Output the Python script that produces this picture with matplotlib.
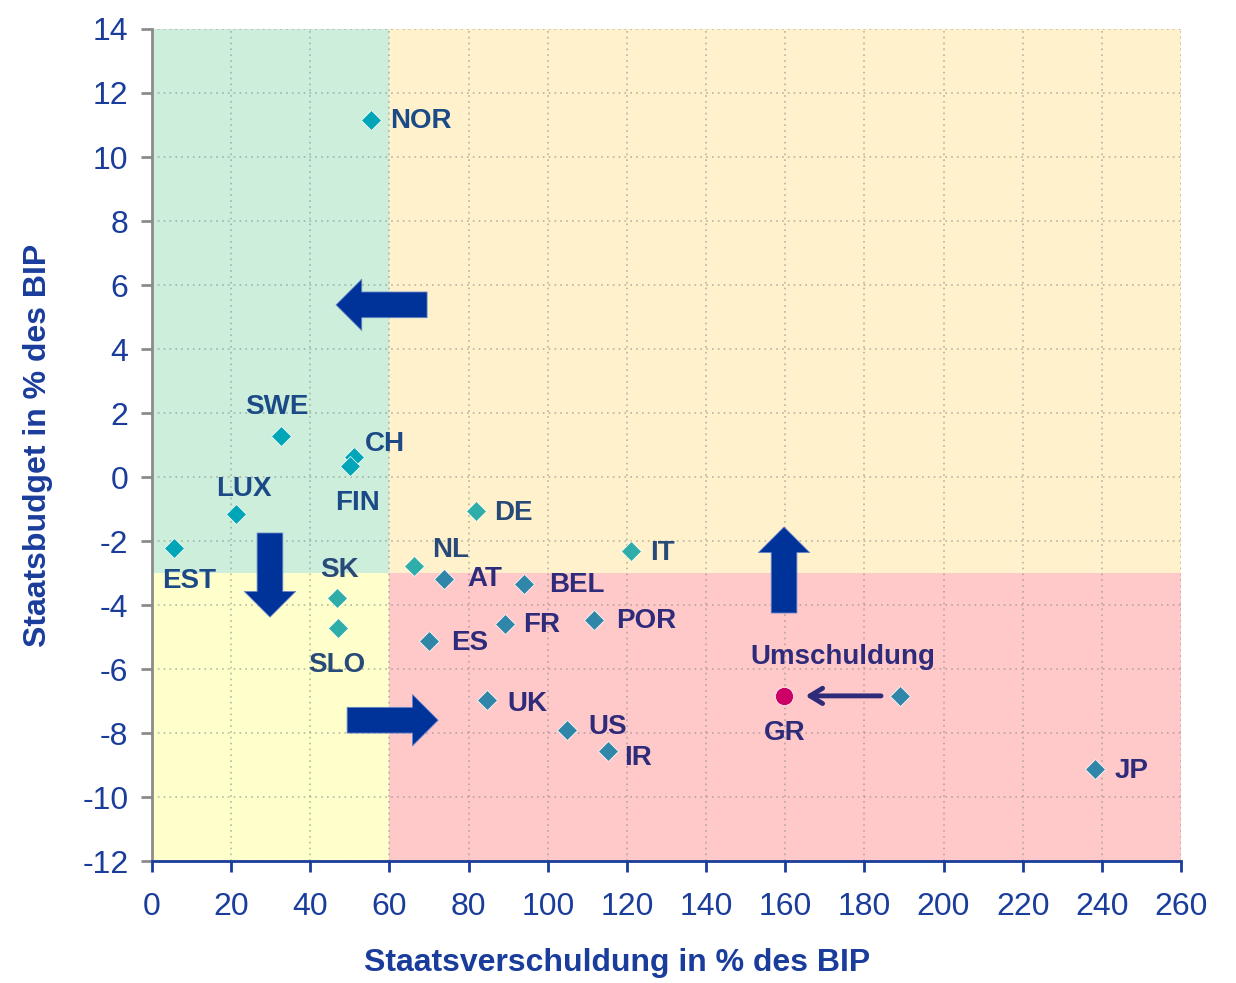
import matplotlib
matplotlib.use("Agg")
import matplotlib.pyplot as plt
from matplotlib.patches import Rectangle

plt.rcParams['font.family'] = ['Liberation Sans', 'DejaVu Sans']

# Staatsverschuldung (% BIP) und Staatsbudget (% BIP) je Land
countries = ["NOR", "SWE", "CH", "FIN", "LUX", "EST", "SK", "SLO", "DE", "NL",
             "AT", "BEL", "IT", "FR", "POR", "ES", "UK", "US", "IR", "GR", "JP"]
debt = [55.3, 32.6, 51.0, 50.0, 21.2, 5.6, 46.7, 47.0, 81.9, 66.2,
        73.8, 94.0, 121.0, 89.2, 111.7, 70.0, 84.6, 104.9, 115.2, 189.0, 238.2]
budget = [11.16, 1.28, 0.63, 0.34, -1.16, -2.22, -3.78, -4.72, -1.06, -2.78,
          -3.19, -3.34, -2.31, -4.59, -4.47, -5.13, -6.97, -7.90, -8.56, -6.84, -9.13]
groups = ["g", "g", "g", "g", "g", "g", "t", "t", "t", "t",
          "p", "p", "t", "p", "p", "p", "p", "p", "p", "p", "p"]

gr_after_debt = 159.7
gr_after_budget = -6.84

x_ticks = list(range(0, 261, 20))
y_ticks = list(range(-12, 15, 2))

marker_colors = {"g": "#00a5b7", "t": "#2fada8", "p": "#2f86a8"}
label_colors = {"g": "#1b4a86", "t": "#274a78", "p": "#2e2b7a"}

# label offsets (data units): dx, dy relative to the point
label_pos = {
    "NOR": (4.8, -0.05), "SWE": (-9.1, 0.92), "CH": (2.8, 0.41), "FIN": (-3.8, -1.14),
    "LUX": (-5.0, 0.77), "EST": (-3.1, -1.02), "SK": (-4.3, 0.86), "SLO": (-7.6, -1.14),
    "DE": (4.5, -0.08), "NL": (4.5, 0.51), "AT": (5.8, 0.01), "BEL": (6.3, -0.05),
    "IT": (4.8, -0.05), "FR": (4.5, -0.05), "POR": (5.5, -0.02), "ES": (5.5, -0.05),
    "UK": (5.1, -0.11), "US": (5.3, 0.10), "IR": (4.1, -0.21), "JP": (5.1, -0.05),
}

BLUE = "#1a3d9c"
ARROW = "#003399"

fig = plt.figure(figsize=(12.36, 9.83), dpi=100)
ax = fig.add_axes([0.123, 0.1241, 0.8325, 0.8464])
ax.set_xlim(0, 260)
ax.set_ylim(-12, 14)

# quadrant backgrounds
ax.add_patch(Rectangle((0, -3), 60, 17, facecolor="#cceedb", edgecolor="none", zorder=0))
ax.add_patch(Rectangle((60, -3), 200, 17, facecolor="#fff1cc", edgecolor="none", zorder=0))
ax.add_patch(Rectangle((0, -12), 60, 9, facecolor="#ffffcc", edgecolor="none", zorder=0))
ax.add_patch(Rectangle((60, -12), 200, 9, facecolor="#ffc9c9", edgecolor="none", zorder=0))

ax.set_xticks(x_ticks)
ax.set_yticks(y_ticks)
ax.set_yticklabels([str(v) for v in y_ticks])
ax.grid(True, linestyle=(0, (1, 2.5)), color="#8a8a8a", alpha=0.6, linewidth=1.2, zorder=1)
ax.set_axisbelow(True)

for s in ("top", "right"):
    ax.spines[s].set_visible(False)
ax.spines["left"].set_color("#8c8c8c")
ax.spines["left"].set_linewidth(2)
ax.spines["bottom"].set_color(BLUE)
ax.spines["bottom"].set_linewidth(2)
ax.tick_params(axis="y", colors="#8c8c8c", labelcolor=BLUE, labelsize=23, length=8, width=2, pad=9)
ax.tick_params(axis="x", colors=BLUE, labelcolor=BLUE, labelsize=23, length=8, width=2, pad=14)

ax.set_xlabel("Staatsverschuldung in % des BIP", fontsize=23, fontweight="bold", color=BLUE)
ax.xaxis.set_label_coords(0.452, -0.104)
ax.set_ylabel("Staatsbudget in % des BIP", fontsize=23, fontweight="bold", color=BLUE)
ax.yaxis.set_label_coords(-0.096, 0.5)

# country markers
for c, x, y, g in zip(countries, debt, budget, groups):
    ax.plot(x, y, marker="D", markersize=10.5, color=marker_colors[g],
            markeredgecolor="white", markeredgewidth=0.5, linestyle="none", zorder=4)
    if c in label_pos:
        dx, dy = label_pos[c]
        ax.text(x + dx, y + dy, c, fontsize=20, fontweight="bold", color=label_colors[g],
                ha="left", va="center", zorder=5)

# Greece after restructuring
ax.plot(gr_after_debt, gr_after_budget, marker="o", markersize=13, color="#cc0066",
        markeredgecolor="white", markeredgewidth=0.5, linestyle="none", zorder=4)
ax.text(gr_after_debt - 5.1, gr_after_budget - 1.15, "GR", fontsize=20, fontweight="bold",
        color="#2e2b7a", ha="left", va="center", zorder=5)
ax.text(gr_after_debt - 8.6, gr_after_budget + 1.23, "Umschuldung", fontsize=20, fontweight="bold",
        color="#2e2b7a", ha="left", va="center", zorder=5)
ax.annotate("", xy=(gr_after_debt + 5.4, gr_after_budget), xytext=(184.2, gr_after_budget),
            arrowprops=dict(arrowstyle="->,head_length=0.9,head_width=0.55", color="#2e2b7a",
                            lw=3.5, shrinkA=0, shrinkB=0), zorder=5)

# block arrows showing the direction of adjustment
def block_arrow(start, end):
    ax.annotate("", xy=end, xytext=start,
                arrowprops=dict(arrowstyle="simple,head_length=1.0,head_width=2.0,tail_width=1.0",
                                mutation_scale=18.5, facecolor=ARROW, edgecolor="#6a86c8",
                                lw=0.6, shrinkA=0, shrinkB=0), zorder=6)

block_arrow((69.5, 5.38), (46.5, 5.38))
block_arrow((29.8, -1.75), (29.8, -4.38))
block_arrow((49.3, -7.6), (72.3, -7.6))
block_arrow((159.7, -4.25), (159.7, -1.56))

fig.savefig("out.png", dpi=100)
